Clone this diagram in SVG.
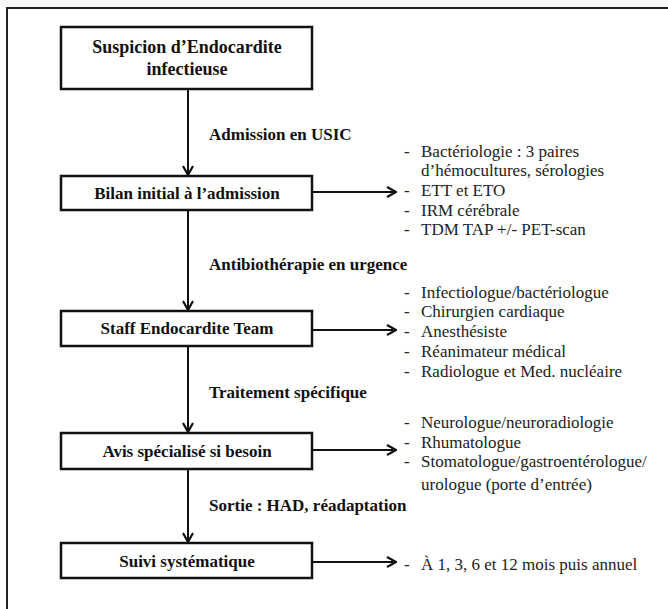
<svg xmlns="http://www.w3.org/2000/svg" width="668" height="609" viewBox="0 0 668 609">
<defs>
<style>
.box{fill:#fff;stroke:#111;stroke-width:2.5}
.frame{fill:none;stroke:#222;stroke-width:2}
.conn{fill:none;stroke:#111;stroke-width:2}
.tt{font-family:"Liberation Serif",serif;font-weight:bold;font-size:18px;fill:#111;text-anchor:middle}
.bt{font-family:"Liberation Serif",serif;font-weight:bold;font-size:17px;fill:#111;text-anchor:middle}
.lb{font-family:"Liberation Serif",serif;font-weight:bold;font-size:17px;fill:#111}
.it{font-family:"Liberation Serif",serif;font-size:17px;fill:#222}
</style>
<marker id="ah" viewBox="0 0 12 12" refX="11" refY="6" markerWidth="12" markerHeight="12" markerUnits="userSpaceOnUse" orient="auto">
<path d="M2,1 L11,6 L2,11" fill="none" stroke="#111" stroke-width="2.2"/>
</marker>
</defs>
<rect x="0" y="0" width="668" height="609" fill="#fff"/>
<rect x="0" y="0" width="668" height="7" fill="#f6f7f7"/>
<rect class="frame" x="7" y="8" width="700" height="700"/>
<g id="connectors">
<line class="conn" x1="188" y1="89" x2="188" y2="175" marker-end="url(#ah)"/>
<line class="conn" x1="188" y1="210" x2="188" y2="310" marker-end="url(#ah)"/>
<line class="conn" x1="188" y1="346" x2="188" y2="432" marker-end="url(#ah)"/>
<line class="conn" x1="188" y1="469" x2="188" y2="542" marker-end="url(#ah)"/>
<line class="conn" x1="312" y1="192" x2="396" y2="192" marker-end="url(#ah)"/>
<line class="conn" x1="312" y1="330" x2="396" y2="330" marker-end="url(#ah)"/>
<line class="conn" x1="312" y1="450" x2="396" y2="450" marker-end="url(#ah)"/>
<line class="conn" x1="312" y1="562" x2="396" y2="562" marker-end="url(#ah)"/>
<text class="lb" x="209" y="140" font-family="Liberation Serif, serif">Admission en USIC</text>
<text class="lb" x="209" y="270" font-family="Liberation Serif, serif">Antibiothérapie en urgence</text>
<text class="lb" x="209" y="398" font-family="Liberation Serif, serif">Traitement spécifique</text>
<text class="lb" x="209" y="511" font-family="Liberation Serif, serif">Sortie : HAD, réadaptation</text>
</g>
<g id="n1">
<rect class="box" x="61" y="27" width="251" height="62"/>
<text class="tt" x="187" y="53" font-family="Liberation Serif, serif">Suspicion d’Endocardite</text>
<text class="tt" x="187" y="75" font-family="Liberation Serif, serif">infectieuse</text>
</g>
<g id="n2">
<rect class="box" x="61" y="176" width="251" height="34"/>
<text class="bt" x="187" y="199" font-family="Liberation Serif, serif">Bilan initial à l’admission</text>
</g>
<g id="n3">
<rect class="box" x="61" y="311" width="251" height="35"/>
<text class="bt" x="187" y="334" font-family="Liberation Serif, serif">Staff Endocardite Team</text>
</g>
<g id="n4">
<rect class="box" x="61" y="433" width="251" height="36"/>
<text class="bt" x="187" y="457" font-family="Liberation Serif, serif">Avis spécialisé si besoin</text>
</g>
<g id="n5">
<rect class="box" x="61" y="543" width="251" height="35"/>
<text class="bt" x="187" y="567" font-family="Liberation Serif, serif">Suivi systématique</text>
</g>
<g id="list1">
<text class="it" x="404" y="157" font-family="Liberation Serif, serif">-</text><text class="it" x="421" y="157" font-family="Liberation Serif, serif">Bactériologie : 3 paires</text>
<text class="it" x="421" y="176" font-family="Liberation Serif, serif">d’hémocultures, sérologies</text>
<text class="it" x="404" y="196" font-family="Liberation Serif, serif">-</text><text class="it" x="421" y="196" font-family="Liberation Serif, serif">ETT et ETO</text>
<text class="it" x="404" y="216" font-family="Liberation Serif, serif">-</text><text class="it" x="421" y="216" font-family="Liberation Serif, serif">IRM cérébrale</text>
<text class="it" x="404" y="235" font-family="Liberation Serif, serif">-</text><text class="it" x="421" y="235" font-family="Liberation Serif, serif">TDM TAP +/- PET-scan</text>
</g>
<g id="list2">
<text class="it" x="404" y="298" font-family="Liberation Serif, serif">-</text><text class="it" x="421" y="298" font-family="Liberation Serif, serif">Infectiologue/bactériologue</text>
<text class="it" x="404" y="317" font-family="Liberation Serif, serif">-</text><text class="it" x="421" y="317" font-family="Liberation Serif, serif">Chirurgien cardiaque</text>
<text class="it" x="404" y="337" font-family="Liberation Serif, serif">-</text><text class="it" x="421" y="337" font-family="Liberation Serif, serif">Anesthésiste</text>
<text class="it" x="404" y="357" font-family="Liberation Serif, serif">-</text><text class="it" x="421" y="357" font-family="Liberation Serif, serif">Réanimateur médical</text>
<text class="it" x="404" y="377" font-family="Liberation Serif, serif">-</text><text class="it" x="421" y="377" font-family="Liberation Serif, serif">Radiologue et Med. nucléaire</text>
</g>
<g id="list3">
<text class="it" x="404" y="428" font-family="Liberation Serif, serif">-</text><text class="it" x="421" y="428" font-family="Liberation Serif, serif">Neurologue/neuroradiologie</text>
<text class="it" x="404" y="448" font-family="Liberation Serif, serif">-</text><text class="it" x="421" y="448" font-family="Liberation Serif, serif">Rhumatologue</text>
<text class="it" x="404" y="467" font-family="Liberation Serif, serif">-</text><text class="it" x="421" y="467" font-family="Liberation Serif, serif">Stomatologue/gastroentérologue/</text>
<text class="it" x="421" y="490" font-family="Liberation Serif, serif">urologue (porte d’entrée)</text>
</g>
<g id="list4">
<text class="it" x="404" y="570" font-family="Liberation Serif, serif">-</text><text class="it" x="421" y="570" font-family="Liberation Serif, serif">À 1, 3, 6 et 12 mois puis annuel</text>
</g>
</svg>
